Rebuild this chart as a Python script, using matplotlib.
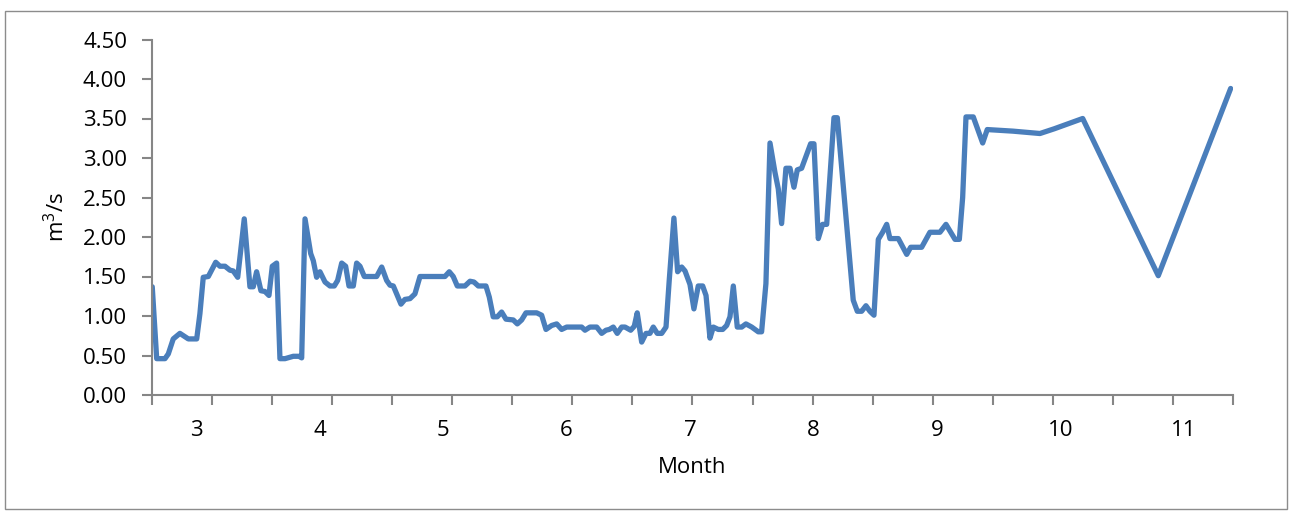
import numpy as np
import matplotlib
matplotlib.use("Agg")
import matplotlib.pyplot as plt
from matplotlib.patches import Rectangle
from matplotlib.ticker import FixedLocator, FormatStrFormatter

plt.rcParams['font.family'] = ['Open Sans', 'DejaVu Sans']
plt.rcParams['mathtext.default'] = 'regular'

# Month (fractional) and discharge (m3/s)
month = [2.646, 2.682, 2.749, 2.776, 2.816, 2.870, 2.938, 3.006, 3.032, 3.059,
         3.100, 3.160, 3.194, 3.235, 3.275, 3.302, 3.338, 3.391, 3.437, 3.464,
         3.491, 3.526, 3.559, 3.591, 3.618, 3.653, 3.680, 3.721, 3.788, 3.834,
         3.856, 3.883, 3.929, 3.950, 3.977, 4.004, 4.045, 4.085, 4.120, 4.147,
         4.180, 4.212, 4.239, 4.274, 4.301, 4.328, 4.363, 4.463, 4.504, 4.544,
         4.571, 4.598, 4.660, 4.692, 4.733, 4.773, 4.814, 5.016, 5.051, 5.083,
         5.116, 5.178, 5.219, 5.251, 5.286, 5.348, 5.375, 5.407, 5.440, 5.475,
         5.510, 5.569, 5.602, 5.637, 5.672, 5.759, 5.799, 5.834, 5.880, 5.921,
         5.961, 6.002, 6.123, 6.150, 6.190, 6.245, 6.285, 6.320, 6.347, 6.379,
         6.411, 6.447, 6.474, 6.520, 6.549, 6.573, 6.609, 6.644, 6.676, 6.703,
         6.735, 6.771, 6.806, 6.832, 6.870, 6.900, 6.933, 6.960, 7.000, 7.032,
         7.067, 7.103, 7.130, 7.162, 7.189, 7.229, 7.265, 7.297, 7.324, 7.351,
         7.383, 7.419, 7.453, 7.500, 7.553, 7.580, 7.615, 7.648, 7.688, 7.715,
         7.742, 7.777, 7.810, 7.842, 7.869, 7.904, 7.977, 8.004, 8.039, 8.074,
         8.107, 8.166, 8.193, 8.322, 8.355, 8.390, 8.425, 8.457, 8.490, 8.525,
         8.560, 8.593, 8.619, 8.687, 8.755, 8.787, 8.876, 8.943, 9.024, 9.073,
         9.146, 9.181, 9.208, 9.235, 9.294, 9.370, 9.407, 9.615, 9.834, 9.950,
         10.180, 10.792, 11.378]

flow = [1.37, 0.46, 0.46, 0.52, 0.71, 0.78, 0.71, 0.71, 1.03, 1.49,
        1.50, 1.68, 1.63, 1.63, 1.58, 1.57, 1.49, 2.23, 1.37, 1.37,
        1.56, 1.32, 1.31, 1.26, 1.63, 1.67, 0.46, 0.46, 0.49, 0.49,
        0.47, 2.23, 1.79, 1.70, 1.49, 1.56, 1.43, 1.38, 1.38, 1.45,
        1.67, 1.63, 1.38, 1.38, 1.67, 1.63, 1.50, 1.50, 1.62, 1.45,
        1.39, 1.38, 1.15, 1.21, 1.22, 1.28, 1.50, 1.50, 1.56, 1.50,
        1.38, 1.38, 1.44, 1.43, 1.38, 1.38, 1.24, 0.99, 0.99, 1.05,
        0.96, 0.95, 0.90, 0.95, 1.04, 1.04, 1.01, 0.83, 0.88, 0.90,
        0.83, 0.86, 0.86, 0.82, 0.86, 0.86, 0.78, 0.82, 0.83, 0.86,
        0.78, 0.86, 0.86, 0.82, 0.87, 1.04, 0.67, 0.78, 0.78, 0.86,
        0.78, 0.78, 0.86, 1.45, 2.24, 1.56, 1.62, 1.57, 1.40, 1.09,
        1.38, 1.38, 1.26, 0.72, 0.86, 0.83, 0.83, 0.88, 0.99, 1.38,
        0.86, 0.86, 0.90, 0.86, 0.80, 0.80, 1.41, 3.19, 2.82, 2.61,
        2.17, 2.87, 2.87, 2.63, 2.85, 2.87, 3.18, 3.18, 1.98, 2.16,
        2.16, 3.51, 3.51, 1.20, 1.06, 1.06, 1.13, 1.06, 1.01, 1.97,
        2.06, 2.16, 1.98, 1.98, 1.78, 1.87, 1.87, 2.06, 2.06, 2.16,
        1.97, 1.97, 2.50, 3.52, 3.52, 3.19, 3.36, 3.34, 3.31, 3.37,
        3.50, 1.51, 3.88]

month_labels = [3, 4, 5, 6, 7, 8, 9, 10, 11]
y_ticks = [0.0, 0.5, 1.0, 1.5, 2.0, 2.5, 3.0, 3.5, 4.0, 4.5]

W, H = 1290, 512
fig = plt.figure(figsize=(W / 100, H / 100), dpi=100)

# outer chart frame
fig.patches.append(Rectangle((4.5 / W, 1 - 509 / H), (1286.5 - 4.5) / W, (509 - 11) / H,
                             transform=fig.transFigure, fill=False,
                             edgecolor='#8c8c8c', linewidth=1.0))

ax = fig.add_axes([152 / W, 1 - 395 / H, (1233 - 152) / W, (395 - 39.5) / H])
ax.plot(month, flow, color='#4A7EBB', linewidth=3.8,
        solid_joinstyle='round', solid_capstyle='round')

xmin, xmax = 2.644, 11.397
ax.set_xlim(xmin, xmax)
ax.set_ylim(0, 4.5)

for s in ['top', 'right']:
    ax.spines[s].set_visible(False)
for s in ['left', 'bottom']:
    ax.spines[s].set_color('#868686')
    ax.spines[s].set_linewidth(1.5)

FS = 16
ax.set_yticks(y_ticks)
ax.yaxis.set_major_formatter(FormatStrFormatter('%.2f'))
ax.tick_params(axis='y', which='major', length=7, width=1.5, color='#868686',
               direction='out', pad=11, labelsize=FS, labelcolor='black')

ax.set_xticks(month_labels)
ax.set_xticklabels([str(m) for m in month_labels])
ax.xaxis.set_minor_locator(FixedLocator(np.linspace(xmin, xmax, 19)))
ax.tick_params(axis='x', which='major', length=0, pad=18, labelsize=FS, labelcolor='black')
ax.tick_params(axis='x', which='minor', length=7, width=1.5, color='#868686', direction='out')

ax.set_xlabel('Month', fontsize=FS, va='center')
ax.xaxis.set_label_coords(0.5, -0.205)
ax.set_ylabel('m$^{3}$/s', fontsize=FS, va='center')
ax.yaxis.set_label_coords(-0.088, 0.5)

fig.savefig('out.png', dpi=100)
